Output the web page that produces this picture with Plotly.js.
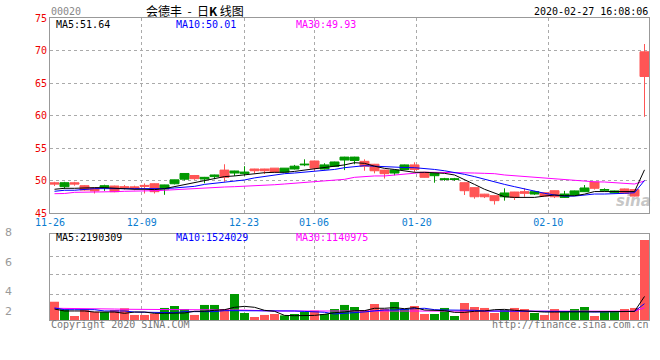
<!DOCTYPE html>
<html><head><meta charset="utf-8">
<script src="https://cdn.plot.ly/plotly-3.0.1.min.js"></script>
<style>body{margin:0;background:#fff}#chart{width:660px;height:360px}</style>
</head><body><div id="chart"></div>
<script>
// ---- data ----
const tickLabels = ['11-26','12-09','12-23','01-06','01-20','02-10'];
const tickPos    = [-0.45, 8.72, 18.95, 25.95, 36.22, 49.38];

const open  = [49.65,49.05,49.65,49.20,48.85,48.92,49.15,49.05,49.02,49.25,
               49.50,48.68,49.50,50.20,50.77,50.23,50.60,51.60,51.15,51.05,
               51.77,51.77,51.90,51.30,51.77,52.40,53.00,51.77,52.18,53.15,
               53.08,52.95,52.50,51.60,51.15,51.70,52.40,51.26,50.74,50.15,
               50.15,49.66,48.90,47.90,47.66,47.50,48.23,48.28,47.92,48.12,
               48.43,47.40,47.77,48.28,49.77,48.50,48.10,48.70,48.60,69.80];
const high  = [49.80,49.80,49.80,49.30,48.90,49.35,49.20,49.30,49.20,49.55,
               49.55,49.35,50.12,51.10,50.85,50.55,50.90,52.50,51.50,52.20,
               51.80,51.80,51.92,51.92,52.40,53.26,53.05,52.65,52.90,53.65,
               53.65,53.26,52.55,51.65,51.65,52.45,52.80,51.30,51.15,50.40,
               50.40,49.70,48.95,47.95,47.70,48.80,48.25,48.80,48.40,48.15,
               48.45,48.40,48.45,49.30,49.80,48.80,48.45,48.75,48.65,71.00];
const low   = [49.15,48.70,49.20,48.45,48.00,48.40,48.20,48.60,48.50,48.00,
               48.00,47.80,49.40,50.00,50.10,49.57,50.20,49.80,50.70,50.75,
               51.10,51.00,51.25,51.25,51.70,52.20,51.46,51.70,52.10,51.60,
               52.50,51.50,51.10,50.30,50.80,51.65,51.30,50.45,49.66,49.95,
               49.95,47.77,47.20,47.30,46.30,46.90,47.00,47.50,47.80,47.55,
               47.30,47.35,47.70,48.25,48.60,48.30,48.05,48.00,47.55,59.80];
const close = [49.45,49.66,49.45,48.54,48.40,49.20,48.28,48.92,48.75,49.12,
               48.28,49.32,50.10,51.08,50.28,50.49,50.85,50.50,51.46,51.30,
               51.50,51.50,51.30,51.90,52.20,52.50,51.90,52.40,52.85,53.60,
               53.60,52.20,51.50,51.05,51.60,52.40,51.70,50.49,51.10,50.25,
               50.25,48.43,47.50,47.50,46.90,48.08,47.40,48.03,48.28,47.60,
               47.50,47.92,48.40,48.85,48.80,48.60,48.40,48.03,47.60,66.00];

const ma5  = [48.65,48.8,48.8,48.9,48.9,48.9,48.8,48.7,48.65,48.65,
              48.6,48.75,49.05,49.4,49.6,49.97,50.23,50.6,50.7,50.9,
              51.0,51.2,51.26,51.26,51.4,51.6,51.7,51.9,52.1,52.4,
              52.74,52.64,52.2,51.87,51.7,51.5,51.26,51.26,51.2,51.1,
              50.85,50.18,49.4,48.65,48.12,47.5,47.4,47.4,47.4,47.6,
              47.77,47.66,47.66,47.9,48.3,48.3,48.3,48.3,48.3,51.64];
const ma10 = [48.34,48.5,48.5,48.65,48.75,48.75,48.72,48.72,48.74,48.75,
              48.7,48.75,48.85,48.95,49.1,49.4,49.57,49.77,49.9,50.08,
              50.4,50.6,50.9,51.05,51.15,51.3,51.46,51.6,51.7,51.97,
              52.1,52.28,52.2,52.1,52.1,52.0,51.97,51.87,51.7,51.5,
              51.26,50.95,50.6,50.18,49.77,49.4,49.05,48.7,48.28,48.03,
              47.77,47.6,47.6,47.77,47.92,47.92,48.03,48.03,48.12,50.01];
const ma30 = [47.97,48.0,48.18,48.18,48.18,48.23,48.28,48.34,48.34,48.34,
              48.43,48.5,48.6,48.7,48.75,48.9,48.95,49.0,49.05,49.1,
              49.15,49.2,49.35,49.46,49.57,49.7,49.87,49.97,50.08,50.18,
              50.49,50.6,50.7,50.7,50.85,51.0,51.2,51.26,51.26,51.26,
              51.26,51.2,51.15,51.1,51.05,50.85,50.74,50.6,50.49,50.34,
              50.23,50.08,49.97,49.9,49.8,49.77,49.66,49.57,49.46,49.93];

// volume, millions of shares
const volume = [1.70,0.99,0.37,0.99,0.77,0.74,0.93,1.09,0.47,0.47,
                0.59,1.12,1.30,1.02,0.47,1.40,1.40,1.02,2.42,0.65,
                0.28,0.47,0.56,0.43,0.56,0.77,0.87,0.56,1.02,1.40,
                1.21,0.93,1.49,1.02,1.67,1.02,1.30,0.56,0.56,1.12,
                0.37,1.58,1.21,1.12,0.65,0.93,1.12,1.02,0.65,0.47,
                1.02,0.74,1.02,1.21,0.37,0.74,0.74,1.02,1.12,7.44];
const volMa5  = [1.02,0.84,0.84,0.84,0.74,0.74,0.74,0.62,0.74,0.74,
                 0.62,0.62,0.65,0.65,0.81,0.81,0.90,0.96,1.18,1.27,
                 1.18,0.90,0.81,0.43,0.40,0.43,0.43,0.53,0.68,0.75,
                 0.87,0.87,1.09,1.09,1.15,1.05,1.15,0.93,0.87,0.87,
                 0.71,0.71,0.81,0.84,0.96,0.99,0.90,0.84,0.74,0.74,
                 0.74,0.75,0.74,0.73,0.74,0.74,0.75,0.74,0.80,2.19];
const volMa10 = [1.12,0.96,0.96,0.96,0.96,0.84,0.84,0.84,0.74,0.74,
                 0.74,0.68,0.68,0.78,0.78,0.78,0.78,0.87,0.87,0.90,
                 0.90,0.90,0.90,0.87,0.84,0.80,0.74,0.72,0.56,0.60,
                 0.65,0.75,0.85,0.93,0.93,0.96,1.05,1.09,0.96,0.93,
                 0.93,0.90,0.90,0.84,0.84,0.84,0.84,0.84,0.80,0.80,
                 0.78,0.78,0.78,0.78,0.74,0.74,0.74,0.76,0.80,1.52];
const volMa30 = [1.09,1.09,1.09,1.09,1.06,1.02,1.02,1.00,1.00,1.00,
                 0.99,0.99,0.99,0.98,0.98,0.93,0.93,0.93,0.93,0.92,
                 0.92,0.86,0.84,0.84,0.84,0.84,0.84,0.84,0.82,0.82,
                 0.81,0.81,0.81,0.82,0.82,0.83,0.83,0.83,0.83,0.82,
                 0.82,0.82,0.83,0.83,0.83,0.83,0.82,0.82,0.82,0.81,
                 0.81,0.81,0.81,0.80,0.80,0.80,0.80,0.81,0.82,1.14];

const volTickLabels = ['2','4','6','8'];

// ---- styling ----
const RED = '#ff5555', GREEN = '#009900';
const MONO = 'DejaVu Sans Mono';
const idx = close.map((_, i) => i);
const barColors = close.map((c, i) => c >= open[i] ? GREEN : RED);

const data = [
  {type:'candlestick', x:idx, open:open, high:high, low:low, close:close,
   xaxis:'x', yaxis:'y', whiskerwidth:0,
   increasing:{line:{color:GREEN,width:1}, fillcolor:GREEN},
   decreasing:{line:{color:RED,width:1}, fillcolor:RED}, hoverinfo:'skip'},
  {type:'scatter', mode:'lines', x:idx, y:ma30, xaxis:'x', yaxis:'y', line:{color:'#ff00ff',width:1}},
  {type:'scatter', mode:'lines', x:idx, y:ma10, xaxis:'x', yaxis:'y', line:{color:'#0000ff',width:1}},
  {type:'scatter', mode:'lines', x:idx, y:ma5,  xaxis:'x', yaxis:'y', line:{color:'#000000',width:1}},
  {type:'bar', x:idx, y:volume, xaxis:'x2', yaxis:'y2', width:0.9,
   marker:{color:barColors, line:{width:0}}},
  {type:'scatter', mode:'lines', x:idx, y:volMa30, xaxis:'x2', yaxis:'y2', line:{color:'#ff00ff',width:1}},
  {type:'scatter', mode:'lines', x:idx, y:volMa10, xaxis:'x2', yaxis:'y2', line:{color:'#0000ff',width:1}},
  {type:'scatter', mode:'lines', x:idx, y:volMa5,  xaxis:'x2', yaxis:'y2', line:{color:'#000000',width:1}}
];

const px = p => (p - 50) / 599;
const py = p => (320 - p) / 302;
function ann(text, x, y, xa, color, size, family) {
  return {text:text, xref:'paper', yref:'paper', x:px(x), y:py(y),
    xanchor:xa, yanchor:'middle', showarrow:false, borderpad:0,
    font:{family:family||MONO, size:size||10, color:color||'#000'}};
}
const volLabelY = [311, 291, 262, 232];

const grid = {showgrid:true, gridcolor:'#aaaaaa', griddash:'dot', gridwidth:1,
  showline:true, linecolor:'#999999', linewidth:1, mirror:true, zeroline:false, ticks:''};

const layout = {
  width:660, height:360,
  margin:{l:50, r:11, t:18, b:40, pad:0},
  paper_bgcolor:'#ffffff', plot_bgcolor:'#ffffff',
  showlegend:false, boxgap:0.1, boxgroupgap:0,
  xaxis: Object.assign({}, grid, {domain:[0,1], anchor:'y', range:[-0.45,59.45],
    tickmode:'array', tickvals:tickPos, ticktext:tickLabels,
    tickfont:{family:MONO, size:10, color:'#0a7cd0'}, rangeslider:{visible:false}}),
  yaxis: Object.assign({}, grid, {domain:[0.3543,1], anchor:'x', range:[45,75],
    tickmode:'array', tickvals:[45,50,55,60,65,70,75],
    tickfont:{family:MONO, size:10, color:'#ee0000'}}),
  xaxis2: Object.assign({}, grid, {domain:[0,1], anchor:'y2', range:[-0.45,59.45],
    tickmode:'array', tickvals:tickPos, showticklabels:false}),
  yaxis2: Object.assign({}, grid, {domain:[0,0.2848], anchor:'x2', range:[0,8],
    tickmode:'array', tickvals:[2.33,4.19,5.95], showticklabels:false}),
  annotations: [
    ann('00020', 50, 12, 'left', '#888888', 10),
    ann('会德丰\u00a0\u00a0-\u00a0\u00a0日<b>K</b>\u00a0线图', 195, 10, 'center', '#000', 12, 'Noto Sans CJK SC'),
    ann('2020-02-27 16:08:06', 649, 12, 'right', '#000', 10),
    ann('MA5:51.64', 55, 24.5, 'left', '#000000', 10),
    ann('MA10:50.01', 175, 24.5, 'left', '#0000ff', 10),
    ann('MA30:49.93', 295, 24.5, 'left', '#ff00ff', 10),
    ann('MA5:2190309', 55, 238, 'left', '#000000', 10),
    ann('MA10:1524029', 175, 238, 'left', '#0000ff', 10),
    ann('MA30:1140975', 295, 238, 'left', '#ff00ff', 10),
    ann('Copyright 2020 SINA.COM', 50, 324, 'left', '#777777', 10),
    ann('http://finance.sina.com.cn', 650, 324, 'right', '#777777', 10),
    ann('<i><b>sina</b></i>', 633, 201, 'center', 'rgba(150,150,150,0.55)', 15, 'DejaVu Sans')
  ].concat(volTickLabels.map((t, i) => ann(t, 8, volLabelY[i], 'center', '#999999', 11, 'DejaVu Sans')))
};

Plotly.newPlot('chart', data, layout, {staticPlot:true, displayModeBar:false});
</script></body></html>
